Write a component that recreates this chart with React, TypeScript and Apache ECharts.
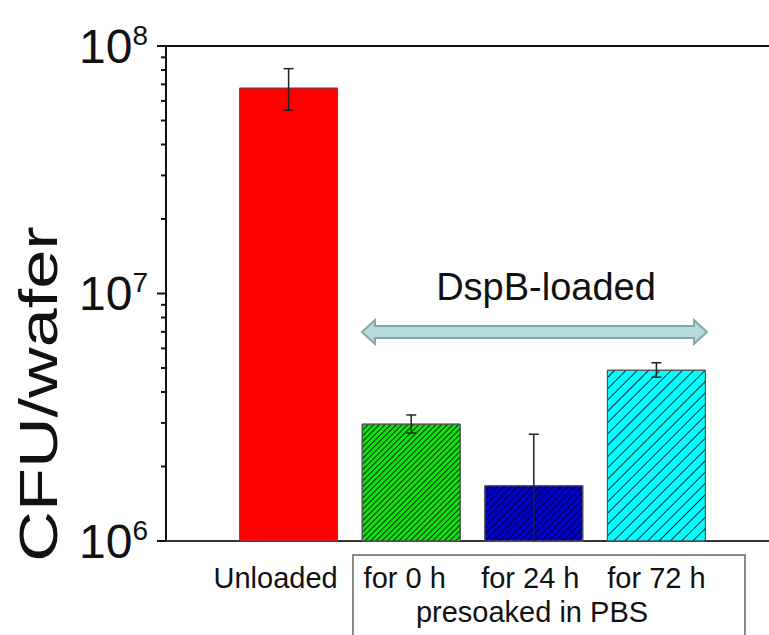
import React, { useEffect, useRef } from "react";
import * as echarts from "echarts";

const categories = ["Unloaded", "for 0 h", "for 24 h", "for 72 h"];
const positions = [1, 2, 3, 4];
const means = [6.8e7, 2.98e6, 1.68e6, 4.92e6];
const errors = [1.3e7, 0.25e6, 1.02e6, 0.33e6];
const barColors = ["#ff0000", "#11e011", "#0000cc", "#00ffff"];
const hatchGaps = [0, 2.4, 3.6, 7];
const majorTickValues = [1e6, 1e7, 1e8];
const minorTickValues = [
  2e6, 3e6, 4e6, 5e6, 6e6, 7e6, 8e6, 9e6,
  2e7, 3e7, 4e7, 5e7, 6e7, 7e7, 8e7, 9e7,
];
const groupLabel = "DspB-loaded";
const boxLabel = "presoaked in PBS";
const yAxisTitle = "CFU/wafer";
const labelShift = [26, 13, 7, 0];

const FONT = "'Liberation Sans', Arial, Helvetica, sans-serif";

export default function App() {
  const ref = useRef<HTMLDivElement>(null);
  useEffect(() => {
    document.body.style.margin = "0";
    const chart = echarts.init(ref.current!, null, { renderer: "svg" });

    const barData = positions.map((x, i) => ({
      value: [x, means[i]],
      itemStyle: {
        color: barColors[i],
        borderColor: "#555",
        borderWidth: 1,
        decal:
          hatchGaps[i] > 0
            ? {
                symbol: "rect",
                symbolSize: 1,
                color: "rgba(0,0,0,0.8)",
                dashArrayX: [1, 0],
                dashArrayY: [1, hatchGaps[i]],
                rotation: -Math.PI / 4,
              }
            : "none",
      },
    }));

    const rich: any = {};
    labelShift.forEach((s, i) => {
      rich["l" + i] = {
        fontSize: 29,
        fontFamily: FONT,
        color: "#111",
        padding: [0, s, 0, 0],
      };
    });

    const option: any = {
      animation: false,
      grid: {
        left: 166,
        top: 46,
        width: 613,
        height: 495,
        show: false,
        containLabel: false,
        outerBoundsMode: "none",
      },
      xAxis: [
        {
          type: "value",
          min: 0,
          max: 5,
          interval: 1,
          axisLine: { show: true, onZero: false, lineStyle: { color: "#333", width: 2 } },
          axisTick: { show: false },
          splitLine: { show: false },
          axisLabel: {
            margin: 22,
            formatter: (v: number) => {
              const i = positions.indexOf(v);
              return i < 0 ? "" : `{l${i}|${categories[i]}}`;
            },
            rich,
          },
        },
        {
          type: "value",
          position: "top",
          min: 0,
          max: 5,
          axisLine: { show: true, onZero: false, lineStyle: { color: "#111", width: 2 } },
          axisTick: { show: false },
          axisLabel: { show: false },
          splitLine: { show: false },
        },
      ],
      yAxis: {
        type: "log",
        logBase: 10,
        min: 1e6,
        max: 1e8,
        axisLine: { show: true, onZero: false, lineStyle: { color: "#111", width: 2 } },
        axisTick: { show: false },
        splitLine: { show: false },
        axisLabel: {
          margin: 18,
          formatter: (v: number) => {
            const e = Math.round(Math.log10(v));
            return `{b|10}{s|${e}}`;
          },
          rich: {
            b: { fontSize: 48, lineHeight: 50, fontFamily: FONT, color: "#111", verticalAlign: "middle" },
            s: { fontSize: 28, lineHeight: 18, fontFamily: FONT, color: "#111", verticalAlign: "top" },
          },
        },
      },
      series: [
        {
          type: "bar",
          data: barData,
          barWidth: 99,
          clip: true,
          z: 2,
        },
        {
          type: "custom",
          z: 5,
          clip: false,
          data: positions.map((x, i) => [x, means[i], means[i] - errors[i], means[i] + errors[i]]),
          renderItem: (params: any, api: any) => {
            const x = api.value(0);
            const lo = api.value(2);
            const hi = api.value(3);
            const pHi = api.coord([x, hi]);
            const pLo = api.coord([x, lo]);
            const bottom = params.coordSys.y + params.coordSys.height;
            const style = { stroke: "#222", lineWidth: 1.5 };
            const children: any[] = [];
            const loY = Math.min(pLo[1], bottom);
            children.push({ type: "line", shape: { x1: pHi[0], y1: pHi[1], x2: pHi[0], y2: loY }, style });
            children.push({ type: "line", shape: { x1: pHi[0] - 5, y1: pHi[1], x2: pHi[0] + 5, y2: pHi[1] }, style });
            if (pLo[1] <= bottom) {
              children.push({ type: "line", shape: { x1: pLo[0] - 5, y1: pLo[1], x2: pLo[0] + 5, y2: pLo[1] }, style });
            }
            return { type: "group", children };
          },
        },
      ],
      graphic: [
        {
          type: "text",
          x: 38,
          y: 394,
          rotation: Math.PI / 2,
          scaleX: 1.3,
          style: {
            text: yAxisTitle,
            fontSize: 54,
            fontFamily: FONT,
            fill: "#111",
            align: "center",
            verticalAlign: "middle",
          },
        },
        {
          type: "text",
          x: 546,
          y: 287,
          style: {
            text: groupLabel,
            fontSize: 38,
            fontFamily: FONT,
            fill: "#111",
            align: "center",
            verticalAlign: "middle",
          },
        },
        {
          type: "polygon",
          shape: {
            points: [
              [362, 332], [375, 320], [375, 326], [694, 326], [694, 320],
              [707, 332], [694, 344], [694, 338], [375, 338], [375, 344],
            ],
          },
          style: { fill: "#b4dbde", stroke: "#87a7a9", lineWidth: 2 },
        },
        {
          type: "rect",
          shape: { x: 353, y: 555, width: 392, height: 120 },
          style: { fill: "none", stroke: "#666", lineWidth: 1.5 },
        },
        {
          type: "text",
          x: 532,
          y: 612,
          style: {
            text: boxLabel,
            fontSize: 29,
            fontFamily: FONT,
            fill: "#111",
            align: "center",
            verticalAlign: "middle",
          },
        },
      ],
    };
    chart.setOption(option);

    // y-axis ticks (major + minor), positioned through the axis scales
    const x0 = 166;
    const tickEls: any[] = [];
    majorTickValues.forEach((v, i) => {
      const y = chart.convertToPixel({ yAxisIndex: 0 }, v) as number;
      tickEls.push({
        id: "maj" + i,
        type: "rect",
        z: 100,
        shape: { x: x0 - 9, y: y - 1, width: 9, height: 2 },
        style: { fill: "#111" },
      });
    });
    minorTickValues.forEach((v, i) => {
      const y = chart.convertToPixel({ yAxisIndex: 0 }, v) as number;
      tickEls.push({
        id: "min" + i,
        type: "rect",
        z: 100,
        shape: { x: x0 - 5, y: y - 1, width: 5, height: 2 },
        style: { fill: "#111" },
      });
    });
    chart.setOption({ graphic: tickEls });

    return () => chart.dispose();
  }, []);
  return (
    <div
      ref={ref}
      style={{ position: "absolute", left: 0, top: 0, width: 769, height: 635 }}
    />
  );
}
